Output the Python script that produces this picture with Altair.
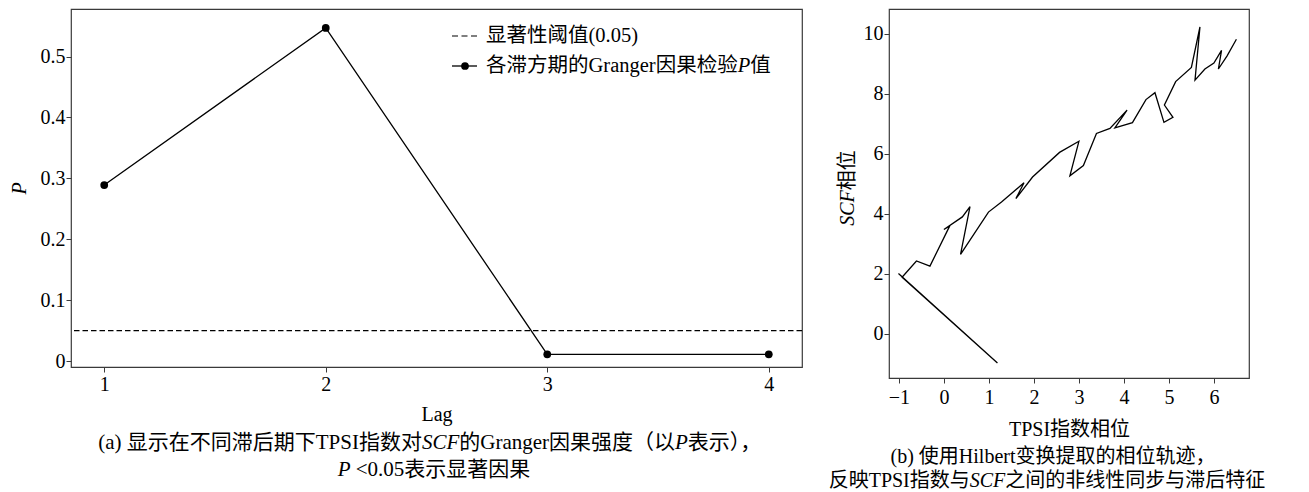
import altair as alt
import pandas as pd

# ---------------- data ----------------
# Panel (a): Granger causality P values by lag
lags = [1, 2, 3, 4]
p_values = [0.289, 0.547, 0.011, 0.011]
threshold = [0.05]
p_ticks = [0, 0.1, 0.2, 0.3, 0.4, 0.5]

# Panel (b): Hilbert phase trajectory
tpsi_phase = [-1.01, 1.19, -0.93, -0.61, -0.31, 0.13, 0.00, 0.41, 0.58, 0.37,
              0.99, 1.28, 1.78, 1.60, 1.97, 2.57, 3.00, 2.80, 3.10, 3.39,
              3.69, 4.07, 3.80, 4.19, 4.49, 4.69, 4.89, 5.09, 4.90, 5.15,
              5.50, 5.69, 5.58, 5.80, 6.00, 6.17, 6.10, 6.29, 6.50]
scf_phase = [2.00, -0.98, 1.88, 2.42, 2.25, 3.59, 3.47, 3.89, 4.23, 2.64,
             4.05, 4.39, 5.03, 4.50, 5.22, 6.04, 6.41, 5.26, 5.60, 6.67,
             6.84, 7.45, 6.86, 7.03, 7.80, 8.03, 7.04, 7.21, 7.62, 8.40,
             8.87, 10.22, 8.45, 8.82, 9.02, 9.44, 8.82, 9.25, 9.81]
tpsi_ticks = [-1, 0, 1, 2, 3, 4, 5, 6]
scf_ticks = [0, 2, 4, 6, 8, 10]

# ---------------- style ----------------
FONT = "Liberation Serif, Noto Sans CJK SC"
FS = 20
FRAME = "#3a3a3a"

W_A, H_A = 731, 358
W_B, H_B = 360, 369

# approximate Times/Liberation Serif advance widths (per 1000 em)
REG = {' ': 250, '(': 333, ')': 333, '.': 250, '<': 564, 'a': 444, 'b': 500,
       'e': 444, 'g': 500, 'i': 278, 'l': 278, 'n': 500, 'r': 333, 't': 278,
       'G': 722, 'H': 722, 'I': 333, 'P': 556, 'S': 556, 'T': 611}
ITA = {'S': 500, 'C': 667, 'F': 611, 'P': 611}


def tw(s, italic=False, fs=FS):
    w = 0
    for ch in s:
        if ord(ch) > 0x2E80:
            w += 1000
        elif italic:
            w += ITA.get(ch, 500)
        else:
            w += REG.get(ch, 500)
    return w / 1000.0 * fs


def text_layer(s, x, y, italic=False, align="left", angle=0, fs=FS):
    return alt.Chart(pd.DataFrame({"t": [s]})).mark_text(
        align=align, baseline="middle", font=FONT, fontSize=fs,
        fontStyle="italic" if italic else "normal", angle=angle, color="black"
    ).encode(text="t:N", x=alt.value(x), y=alt.value(y))


def text_line(segments, cx, y, fs=FS):
    widths = [tw(s, it, fs) for s, it in segments]
    x = cx - sum(widths) / 2.0
    layers = []
    for (s, it), w in zip(segments, widths):
        lead = len(s) - len(s.lstrip(" "))
        layers.append(text_layer(s.strip(" "), x + tw(" " * lead, False, fs), y, it, fs=fs))
        x += w
    return layers


def text_run(segments, x0, y, fs=FS):
    layers = []
    x = x0
    for s, it in segments:
        layers.append(text_layer(s, x, y, it, fs=fs))
        x += tw(s, it, fs)
    return layers


# ---------------- panel (a) ----------------
df_p = pd.DataFrame({"lag": lags, "p": p_values})
xs_a = alt.Scale(domain=[0.85, 4.15], nice=False, zero=False)
ys_a = alt.Scale(domain=[-0.0098, 0.578], nice=False, zero=False)

x_a = alt.X("lag:Q", scale=xs_a, axis=alt.Axis(
    values=lags, format="d", title="Lag", labelPadding=2, titlePadding=10))
y_a = alt.Y("p:Q", scale=ys_a, axis=alt.Axis(
    values=p_ticks, format="~g", title="P", titleFontStyle="italic",
    labelPadding=1, titlePadding=11))

line_a = alt.Chart(df_p).mark_line(color="black", strokeWidth=1.3).encode(x=x_a, y=y_a)
pts_a = alt.Chart(df_p).mark_point(filled=True, size=60, color="black", opacity=1).encode(
    x=alt.X("lag:Q", scale=xs_a), y=alt.Y("p:Q", scale=ys_a))
thr_a = alt.Chart(pd.DataFrame({"p": threshold})).mark_rule(
    color="black", strokeWidth=1.1, strokeDash=[5.5, 3]).encode(y=alt.Y("p:Q", scale=ys_a))

LEG_FS = 20.5
one = pd.DataFrame({"k": [0]})
leg1 = alt.Chart(one).mark_rule(color="black", strokeWidth=1.1, strokeDash=[6, 3.5]).encode(
    x=alt.value(381), x2=alt.value(406), y=alt.value(27))
leg2 = alt.Chart(one).mark_rule(color="black", strokeWidth=1.3).encode(
    x=alt.value(381), x2=alt.value(406), y=alt.value(57))
leg2p = alt.Chart(one).mark_point(filled=True, size=60, color="black", opacity=1).encode(
    x=alt.value(394), y=alt.value(57))
leg_txt = text_run([("显著性阈值(0.05)", False)], 415, 27, LEG_FS) + \
    text_run([("各滞方期的Granger因果检验", False), ("P", True), ("值", False)], 415, 57, LEG_FS)

CAP_A = 21
cap_a = text_line([("(a) 显示在不同滞后期下TPSI指数对", False), ("SCF", True),
                   ("的Granger因果强度（以", False), ("P", True), ("表示），", False)],
                  364, 434, CAP_A) + \
    text_line([("P", True), (" <0.05表示显著因果", False)], 363, 461, CAP_A)

left = alt.layer(thr_a, line_a, pts_a, leg1, leg2, leg2p, *leg_txt, *cap_a).properties(
    width=W_A, height=H_A)

# ---------------- panel (b) ----------------
df_ph = pd.DataFrame({"i": list(range(len(tpsi_phase))), "tpsi": tpsi_phase, "scf": scf_phase})
xs_b = alt.Scale(domain=[-1.22, 6.78], nice=False, zero=False)
ys_b = alt.Scale(domain=[-1.48, 10.82], nice=False, zero=False)

traj = alt.Chart(df_ph).mark_line(color="black", strokeWidth=1.3).encode(
    x=alt.X("tpsi:Q", scale=xs_b, axis=alt.Axis(
        values=tpsi_ticks, title="TPSI指数相位", labelPadding=4, titlePadding=12)),
    y=alt.Y("scf:Q", scale=ys_b, axis=alt.Axis(values=scf_ticks, title=None, labelPadding=1)),
    order="i:Q")

jy = 179 + (tw("SCF", True) + tw("相位")) / 2.0 - tw("SCF", True)
ytitle_b = [text_layer("SCF", -41, jy, True, align="right", angle=270),
            text_layer("相位", -41, jy, False, align="left", angle=270)]

cap_b = text_line([("(b) 使用Hilbert变换提取的相位轨迹，", False)], 164, 448) + \
    text_line([("反映TPSI指数与", False), ("SCF", True), ("之间的非线性同步与滞后特征", False)],
              158, 472)

right = alt.layer(traj, *ytitle_b, *cap_b).properties(width=W_B, height=H_B)

chart = alt.hconcat(left, right, spacing=87, bounds="flush").properties(
    padding={"left": 0, "top": 0, "right": 0, "bottom": 0}
).configure_view(
    stroke=FRAME, strokeWidth=1.2
).configure_axis(
    grid=False, domain=False, ticks=True, tickColor=FRAME, tickSize=5, tickWidth=1,
    labelFont=FONT, labelFontSize=FS, labelColor="black",
    titleFont=FONT, titleFontSize=FS, titleFontWeight="normal", titleColor="black",
    labelFlush=False, labelOverlap=False
)

chart.save("out.html", embed_options={"renderer": "svg", "actions": False})
